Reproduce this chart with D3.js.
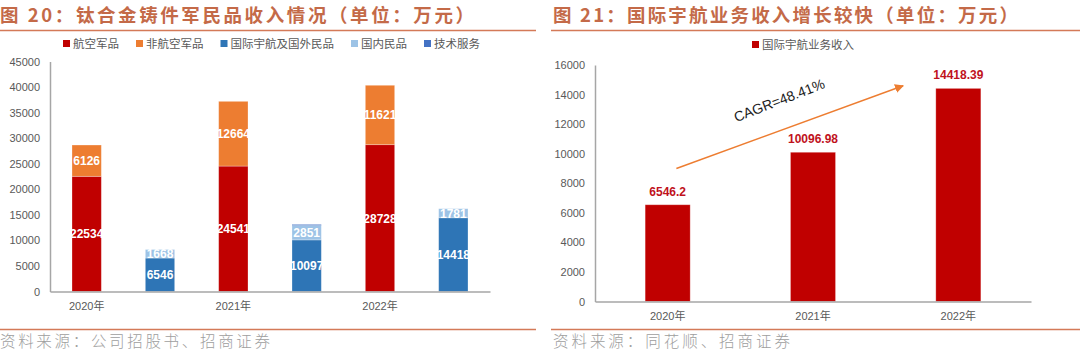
<!DOCTYPE html>
<html><head><meta charset="utf-8">
<script src="https://cdn.jsdelivr.net/npm/d3@7"></script>
<style>
html,body{margin:0;padding:0;background:#fff;}
svg{display:block;}
text{font-family:"Liberation Sans","Noto Sans CJK SC",sans-serif;}
.cjk{font-family:"Noto Sans CJK SC",sans-serif;}
</style></head>
<body>
<svg id="chart" width="1080" height="360"></svg>
<script>
// ---------- data ----------
const years = ["2020年", "2021年", "2022年"];
const milAviation = [22534, 24541, 28728];    // 航空军品
const milNonAviation = [6126, 12664, 11621];  // 非航空军品
const civilIntlSpace = [6546, 10097, 14418];  // 国际宇航及国外民品
const civilDomestic = [1668, 2851, 1781];     // 国内民品
const techService = [0, 150, 0];              // 技术服务
const leftTicks = [0, 5000, 10000, 15000, 20000, 25000, 30000, 35000, 40000, 45000];
const leftLegend = ["航空军品", "非航空军品", "国际宇航及国外民品", "国内民品", "技术服务"];

const intlSpaceRevenue = [6546.2, 10096.98, 14418.39]; // 国际宇航业务收入
const rightTicks = [0, 2000, 4000, 6000, 8000, 10000, 12000, 14000, 16000];
const rightLegend = ["国际宇航业务收入"];
const cagrLabel = "CAGR=48.41%";

const titleL = "图 20：钛合金铸件军民品收入情况（单位：万元）";
const titleR = "图 21：国际宇航业务收入增长较快（单位：万元）";
const sourceL = "资料来源：公司招股书、招商证券";
const sourceR = "资料来源：同花顺、招商证券";

// ---------- styles ----------
const C = {red:"#C00000", orange:"#ED7D31", blue:"#2E75B6", lblue:"#9DC3E6", tblue:"#4472C4",
  title:"#C46A48", rule:"#D47A58", axis:"#A6A6A6", tick:"#595959", src:"#9E9E9E"};
const seriesColors = [C.red, C.orange, C.blue, C.lblue, C.tblue];

const svg = d3.select("#chart");

// ---------- titles, rules, sources ----------
function header(x, w, title, lineX0, lineX1, src, srcW){
  svg.append("text").attr("class","cjk").attr("x", x).attr("y", 22)
    .attr("font-size", 18.5).attr("font-weight", 600).attr("fill", C.title)
    .attr("textLength", w).attr("lengthAdjust","spacing").text(title);
  svg.append("line").attr("x1", lineX0).attr("x2", lineX1).attr("y1", 30.5).attr("y2", 30.5)
    .attr("stroke", C.rule).attr("stroke-width", 1.5);
  svg.append("line").attr("x1", lineX0).attr("x2", lineX1).attr("y1", 329.5).attr("y2", 329.5)
    .attr("stroke", C.rule).attr("stroke-width", 1.5);
  svg.append("text").attr("class","cjk").attr("x", x).attr("y", 347)
    .attr("font-size", 15.5).attr("font-weight", 300).attr("fill", C.src)
    .attr("textLength", srcW).attr("lengthAdjust","spacing").text(src);
}
header(0, 474, titleL, 0, 536, sourceL, 270);
header(553, 465, titleR, 551, 1080, sourceR, 237);

// ---------- LEFT CHART ----------
const slots = [];
years.forEach(y => { slots.push(y + "|mil"); slots.push(y + "|civ"); });
const xL = d3.scaleBand().domain(slots).range([50, 490]).paddingInner(0.6).paddingOuter(0.3);
const yL = d3.scaleLinear().domain([0, 45000]).range([291.5, 61.5]);

// axes
const gyL = svg.append("g").attr("transform","translate(50,0)")
  .call(d3.axisLeft(yL).tickValues(leftTicks).tickSize(0).tickPadding(10).tickFormat(d3.format("d")));
gyL.select(".domain").attr("stroke", C.axis).attr("stroke-width", 1.5);
gyL.selectAll("text").attr("font-size", 11).attr("fill", C.tick);

const stackL = [];
years.forEach((y, i) => {
  let base = 0;
  [[milAviation[i], 0], [milNonAviation[i], 1]].forEach(([v, s]) => {
    stackL.push({slot: y + "|mil", y0: base, y1: base + v, v, s}); base += v;
  });
  base = 0;
  [[civilIntlSpace[i], 2], [civilDomestic[i], 3], [techService[i], 4]].forEach(([v, s]) => {
    stackL.push({slot: y + "|civ", y0: base, y1: base + v, v, s}); base += v;
  });
});

svg.append("g").selectAll("rect").data(stackL.filter(d => d.v > 0)).join("rect")
  .attr("x", d => xL(d.slot)).attr("width", xL.bandwidth())
  .attr("y", d => yL(d.y1)).attr("height", d => yL(d.y0) - yL(d.y1))
  .attr("fill", d => seriesColors[d.s])
  .attr("stroke", d => d.s === 4 ? "none" : "rgba(255,255,255,0.35)").attr("stroke-width", 0.8);

svg.append("g").selectAll("text").data(stackL.filter(d => d.s !== 4 && d.v > 0)).join("text")
  .attr("x", d => xL(d.slot) + xL.bandwidth() / 2)
  .attr("y", d => (yL(d.y0) + yL(d.y1)) / 2 + 4.5)
  .attr("text-anchor","middle").attr("font-size", 12).attr("font-weight", 700)
  .attr("fill", "#fff").text(d => d.v);

const gxL = svg.append("g").attr("transform","translate(0,291.5)")
  .call(d3.axisBottom(xL).tickSize(0).tickPadding(11).tickFormat(d => d.endsWith("|mil") ? d.split("|")[0] : ""));
gxL.select(".domain").attr("stroke", C.axis).attr("stroke-width", 1.5);
gxL.selectAll("text").attr("font-size", 11).attr("fill", C.tick);

// legend
(function(){
  let x = 63;
  const g = svg.append("g");
  leftLegend.forEach((name, i) => {
    g.append("rect").attr("x", x).attr("y", 40).attr("width", 7).attr("height", 7).attr("fill", seriesColors[i]);
    const t = g.append("text").attr("class","cjk").attr("x", x + 10).attr("y", 48)
      .attr("font-size", 11.5).attr("fill", C.tick).text(name);
    x += 10 + t.node().getComputedTextLength() + 17;
  });
})();

// ---------- RIGHT CHART ----------
const xR = d3.scaleBand().domain(years).range([595, 1031]).paddingInner(0.69).paddingOuter(0.345);
const yR = d3.scaleLinear().domain([0, 16000]).range([301.5, 65]);

const gyR = svg.append("g").attr("transform","translate(595,0)")
  .call(d3.axisLeft(yR).tickValues(rightTicks).tickSize(0).tickPadding(10).tickFormat(d3.format("d")));
gyR.select(".domain").attr("stroke", C.axis).attr("stroke-width", 1.5);
gyR.selectAll("text").attr("font-size", 11).attr("fill", C.tick);

svg.append("g").selectAll("rect").data(years).join("rect")
  .attr("x", d => xR(d)).attr("width", xR.bandwidth())
  .attr("y", (d, i) => yR(intlSpaceRevenue[i])).attr("height", (d, i) => yR(0) - yR(intlSpaceRevenue[i]))
  .attr("fill", C.red).attr("stroke", "rgba(255,255,255,0.35)").attr("stroke-width", 0.8);

svg.append("g").selectAll("text").data(years).join("text")
  .attr("x", d => xR(d) + xR.bandwidth() / 2)
  .attr("y", (d, i) => yR(intlSpaceRevenue[i]) - 9)
  .attr("text-anchor","middle").attr("font-size", 12).attr("font-weight", 700)
  .attr("fill", "#C0121C").text((d, i) => intlSpaceRevenue[i]);

const gxR = svg.append("g").attr("transform","translate(0,301.5)")
  .call(d3.axisBottom(xR).tickSize(0).tickPadding(11));
gxR.select(".domain").attr("stroke", C.axis).attr("stroke-width", 1.5);
gxR.selectAll("text").attr("font-size", 11).attr("fill", C.tick);

// legend
(function(){
  const g = svg.append("g");
  g.append("rect").attr("x", 752).attr("y", 41).attr("width", 7).attr("height", 7).attr("fill", C.red);
  g.append("text").attr("class","cjk").attr("x", 762).attr("y", 49)
    .attr("font-size", 11.5).attr("fill", C.tick).text(rightLegend[0]);
})();

// CAGR arrow
svg.append("defs").append("marker").attr("id","arr").attr("viewBox","0 0 10 10")
  .attr("refX", 9).attr("refY", 5).attr("markerWidth", 9).attr("markerHeight", 9)
  .attr("markerUnits","userSpaceOnUse").attr("orient","auto")
  .append("path").attr("d","M0,0L10,5L0,10Z").attr("fill", C.orange);
const step = xR.step(), bw = xR.bandwidth();
const ax0 = xR(years[0]) + bw / 2 + 0.06 * step, ay0 = yR(9000);
const ax1 = xR(years[2]) + bw / 2 - 0.38 * step, ay1 = yR(14600);
svg.append("line").attr("x1", ax0).attr("y1", ay0).attr("x2", ax1).attr("y2", ay1)
  .attr("stroke", C.orange).attr("stroke-width", 1.5).attr("marker-end","url(#arr)");
const ang = Math.atan2(ay1 - ay0, ax1 - ax0) * 180 / Math.PI;
const tx = xR(years[1]) + bw / 2 - 0.22 * step, ty = yR(13300);
svg.append("text").attr("transform", `translate(${tx},${ty}) rotate(${ang - 1})`)
  .attr("text-anchor","middle").attr("font-size", 14).attr("fill", "#1a1a1a").text(cagrLabel);
</script>
</body></html>
